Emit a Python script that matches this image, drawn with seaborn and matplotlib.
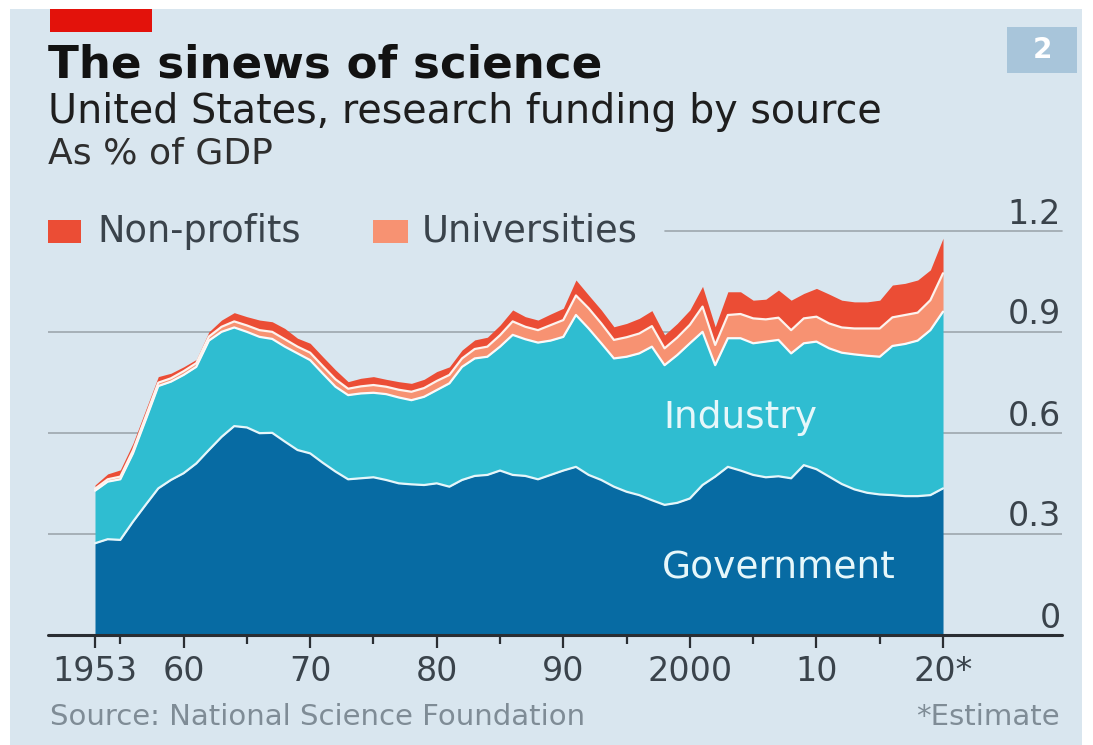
import numpy as np
import pandas as pd
import matplotlib
matplotlib.use("Agg")
import matplotlib.pyplot as plt
import matplotlib.patches as mpatches
import matplotlib.transforms as mtransforms
import seaborn as sns

# ---- data: US research funding by source, % of GDP ----
years = list(range(1953, 2021))

government = [
    0.271, 0.283, 0.281, 0.335, 0.385, 0.434, 0.459, 0.479, 0.508, 0.548,
    0.587, 0.619, 0.615, 0.598, 0.599, 0.573, 0.548, 0.538, 0.510, 0.484,
    0.461, 0.464, 0.467, 0.459, 0.449, 0.446, 0.444, 0.449, 0.439, 0.459,
    0.471, 0.474, 0.487, 0.474, 0.471, 0.461, 0.474, 0.487, 0.498, 0.474,
    0.459, 0.439, 0.424, 0.414, 0.399, 0.385, 0.391, 0.404, 0.444, 0.469,
    0.498, 0.487, 0.474, 0.467, 0.470, 0.464, 0.503, 0.491, 0.469, 0.447,
    0.431, 0.421, 0.416, 0.414, 0.411, 0.411, 0.414, 0.434,
]
industry = [
    0.156, 0.171, 0.180, 0.203, 0.252, 0.304, 0.292, 0.292, 0.287, 0.325,
    0.312, 0.293, 0.284, 0.286, 0.279, 0.282, 0.287, 0.277, 0.265, 0.252,
    0.250, 0.252, 0.251, 0.255, 0.255, 0.250, 0.262, 0.277, 0.307, 0.336,
    0.349, 0.351, 0.368, 0.416, 0.406, 0.406, 0.399, 0.397, 0.451, 0.435,
    0.406, 0.381, 0.401, 0.421, 0.456, 0.415, 0.439, 0.461, 0.455, 0.331,
    0.382, 0.393, 0.391, 0.403, 0.405, 0.371, 0.362, 0.379, 0.381, 0.390,
    0.401, 0.407, 0.409, 0.443, 0.452, 0.462, 0.490, 0.525,
]
universities = [
    0.006, 0.007, 0.008, 0.009, 0.010, 0.010, 0.010, 0.011, 0.011, 0.012,
    0.015, 0.018, 0.019, 0.020, 0.021, 0.022, 0.020, 0.022, 0.022, 0.022,
    0.019, 0.021, 0.023, 0.022, 0.023, 0.025, 0.026, 0.027, 0.025, 0.025,
    0.028, 0.030, 0.034, 0.040, 0.037, 0.037, 0.046, 0.050, 0.058, 0.060,
    0.059, 0.055, 0.058, 0.059, 0.061, 0.050, 0.052, 0.055, 0.075, 0.060,
    0.069, 0.072, 0.074, 0.066, 0.066, 0.069, 0.074, 0.074, 0.074, 0.075,
    0.077, 0.081, 0.084, 0.085, 0.086, 0.083, 0.089, 0.114,
]
non_profits = [
    0.011, 0.016, 0.020, 0.021, 0.020, 0.018, 0.015, 0.013, 0.011, 0.014,
    0.020, 0.026, 0.026, 0.030, 0.030, 0.032, 0.025, 0.028, 0.028, 0.028,
    0.021, 0.024, 0.025, 0.022, 0.024, 0.025, 0.026, 0.028, 0.024, 0.025,
    0.027, 0.028, 0.030, 0.034, 0.030, 0.030, 0.033, 0.035, 0.046, 0.039,
    0.040, 0.039, 0.041, 0.045, 0.046, 0.040, 0.042, 0.044, 0.060, 0.054,
    0.069, 0.066, 0.054, 0.060, 0.082, 0.089, 0.074, 0.084, 0.087, 0.081,
    0.079, 0.079, 0.084, 0.096, 0.094, 0.097, 0.090, 0.104,
]

x_ticks = [1953, 1960, 1970, 1980, 1990, 2000, 2010, 2020]
x_tick_labels = ["1953", "60", "70", "80", "90", "2000", "10", "20*"]
x_minor_ticks = [1955, 1965, 1975, 1985, 1995, 2005, 2015]
y_ticks = [0, 0.3, 0.6, 0.9, 1.2]
y_tick_labels = ["0", "0.3", "0.6", "0.9", "1.2"]

# ---- style ----
BG = "#d9e6ef"
C_GOV = "#076ba3"
C_IND = "#2fbdd1"
C_UNI = "#f79272"
C_NPO = "#eb4d35"
GRID = "#9ea7ae"
TXT = "#3a434b"

sns.set_theme(style="white")
plt.rcParams["font.family"] = ["DejaVu Sans"]

W, H = 1093, 745
fig = plt.figure(figsize=(W / 100, H / 100), dpi=100)
fig.patch.set_facecolor("white")


def fx(px):
    return px / W


def fy(py):
    return 1 - py / H


def fig_rect(x0, y0, x1, y1, color, z=1):
    fig.add_artist(mpatches.Rectangle((fx(x0), fy(y1)), fx(x1) - fx(x0), fy(y0) - fy(y1),
                                      transform=fig.transFigure, color=color, lw=0, zorder=z))


# panel background and header decorations
fig_rect(10, 9, 1082, 745, BG, z=0)
fig_rect(50, 9, 152, 32, "#e3120b")
fig_rect(1007, 27, 1077, 73, "#a8c5da")
fig.text(fx(1042), fy(50), "2", color="white", fontsize=20, fontweight="bold",
         ha="center", va="center")

fig.text(fx(48), fy(78), "The sinews of science", fontsize=32.5, fontweight="bold",
         color="#121212", va="baseline")
fig.text(fx(48), fy(123), "United States, research funding by source", fontsize=28.5,
         color="#1e1e1e", va="baseline")
fig.text(fx(48), fy(163), "As % of GDP", fontsize=26, color="#2e2e2e", va="baseline")

# legend keys
fig_rect(48, 220, 81, 243, C_NPO)
fig.text(fx(97), fy(242), "Non-profits", fontsize=26.5, color=TXT, va="baseline")
fig_rect(373, 220, 408, 243, C_UNI)
fig.text(fx(422), fy(242), "Universities", fontsize=26.5, color=TXT, va="baseline")

# ---- chart ----
ax = fig.add_axes([48 / W, (H - 634.5) / H, (1062 - 48) / W, (634.5 - 230.5) / H])
ax.set_facecolor(BG)
ax.set_xlim(1953 - 47 / 12.657, 1953 + 967 / 12.657)
ax.set_ylim(0, 1.2)

g = np.array(government)
top_ind = g + np.array(industry)
top_uni = top_ind + np.array(universities)
top_npo = top_uni + np.array(non_profits)

ax.fill_between(years, 0, g, color=C_GOV, lw=0, zorder=2)
ax.fill_between(years, g, top_ind, color=C_IND, lw=0, zorder=2)
ax.fill_between(years, top_ind, top_uni, color=C_UNI, lw=0, zorder=2)
ax.fill_between(years, top_uni, top_npo, color=C_NPO, lw=0, zorder=2)

bounds = pd.DataFrame({
    "year": years * 3,
    "value": np.concatenate([g, top_ind, top_uni]),
    "edge": ["gov"] * len(years) + ["ind"] * len(years) + ["uni"] * len(years),
})
sns.lineplot(data=bounds, x="year", y="value", hue="edge",
             palette={"gov": "#e6f6fa", "ind": "#f7fbfc", "uni": "#fdf3ee"},
             estimator=None, lw=1.6, legend=False, ax=ax, zorder=3)

# grid lines and baseline
for v in y_ticks[1:-1]:
    ax.axhline(v, color=GRID, lw=1.2, zorder=1)
ax.axhline(1.2, xmin=(665 - 48) / (1062 - 48), color=GRID, lw=1.2, zorder=1, clip_on=False)
ax.axhline(0, color="#2a2e33", lw=2.2, zorder=5, clip_on=False)

trans = mtransforms.blended_transform_factory(ax.transAxes, ax.transData)
for v, lab in zip(y_ticks, y_tick_labels):
    ax.annotate(lab, xy=(1, v), xycoords=trans, xytext=(-1, 0), textcoords="offset points",
                ha="right", va="bottom", fontsize=24, color=TXT, annotation_clip=False)

ax.set_yticks([])
ax.set_xticks(x_ticks, x_tick_labels)
ax.set_xticks(x_minor_ticks, minor=True)
ax.tick_params(axis="x", which="both", bottom=True, direction="out")
ax.tick_params(axis="x", which="major", length=9, width=1.6, color="#2a2e33",
               pad=6, labelsize=24, labelcolor=TXT)
ax.tick_params(axis="x", which="minor", length=6.5, width=1.6, color="#2a2e33")
ax.set_xlabel("")
ax.set_ylabel("")
for s in ax.spines.values():
    s.set_visible(False)

ax.text(2004.0, 0.613, "Industry", ha="center", va="baseline", fontsize=27,
        color="#e6f7fa", zorder=6)
ax.text(2007.0, 0.165, "Government", ha="center", va="baseline", fontsize=27,
        color="#e6f7fa", zorder=6)

# footer
fig.text(fx(50), fy(725), "Source: National Science Foundation", fontsize=21,
         color="#7f8c96", va="baseline")
fig.text(fx(1060), fy(725), "*Estimate", fontsize=21, color="#7f8c96",
         va="baseline", ha="right")

fig.savefig("out.png", dpi=100, facecolor="white")
